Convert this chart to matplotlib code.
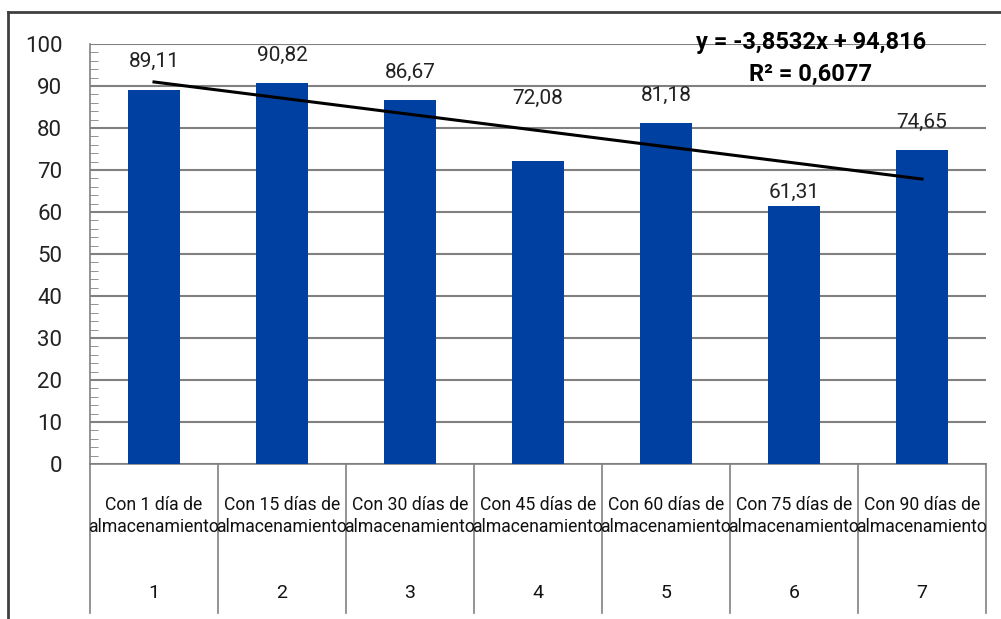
import numpy as np
import matplotlib
matplotlib.use('Agg')
import matplotlib.pyplot as plt
from matplotlib.lines import Line2D

plt.rcParams['font.family'] = ['Roboto', 'DejaVu Sans']

# Datos del gráfico
dias = ['Con 1 día de\nalmacenamiento', 'Con 15 días de\nalmacenamiento',
        'Con 30 días de\nalmacenamiento', 'Con 45 días de\nalmacenamiento',
        'Con 60 días de\nalmacenamiento', 'Con 75 días de\nalmacenamiento',
        'Con 90 días de\nalmacenamiento']
numeros = [1, 2, 3, 4, 5, 6, 7]
valores = [89.11, 90.82, 86.67, 72.08, 81.18, 61.31, 74.65]
ecuacion = 'y = -3,8532x + 94,816'
r2 = 'R² = 0,6077'

# separación (px) entre la barra y su etiqueta, como en el original
separacion = [28, 27, 28, 63, 28, 14, 28]

fig = plt.figure(figsize=(10.01, 6.19), dpi=100)
ax = fig.add_axes([90 / 1001, 155 / 619, 896 / 1001, 420 / 619])

x = np.array(numeros)
ax.bar(x, valores, width=0.4, color='#0040A0', zorder=3)

# Etiquetas de datos
for xi, v, sep in zip(x, valores, separacion):
    ax.annotate(f'{v:.2f}'.replace('.', ','), (xi, v), xytext=(0, sep * 0.72),
                textcoords='offset points', ha='center', va='center',
                fontsize=15, color='#222222')

# Línea de tendencia
m, b = np.polyfit(x, valores, 1)
ax.plot([x[0], x[-1]], [m * x[0] + b, m * x[-1] + b], color='black', lw=2.2, zorder=4)

fig.text(811 / 1001, 1 - 43 / 619, ecuacion, ha='center', va='center',
         fontsize=17, fontweight='bold')
fig.text(811 / 1001, 1 - 74 / 619, r2, ha='center', va='center',
         fontsize=17, fontweight='bold')

ax.set_xlim(0.5, 7.5)
ax.set_ylim(0, 100)
ax.set_yticks(range(0, 101, 10))
ax.set_yticks(range(0, 101, 2), minor=True)
ax.yaxis.grid(True, color='#808080', lw=1.5, zorder=0)
ax.tick_params(axis='y', which='major', length=0, pad=20, labelsize=16,
               labelcolor='#222222')
ax.tick_params(axis='y', which='minor', length=6, direction='in', color='#808080')
ax.set_xticks([])
for s in ['top', 'right']:
    ax.spines[s].set_visible(False)
for s in ['left', 'bottom']:
    ax.spines[s].set_color('#808080')
    ax.spines[s].set_linewidth(1.2)

# Eje de categorías en dos niveles
trans = ax.get_xaxis_transform()
for borde in np.arange(0.5, 8.0, 1.0):
    ax.plot([borde, borde], [0, -149 / 420], color='#808080', lw=1.2,
            transform=trans, clip_on=False)
for xi, d, n in zip(x, dias, numeros):
    linea1, linea2 = d.split('\n')
    ax.text(xi, -41 / 420, linea1, transform=trans, ha='center', va='center',
            fontsize=12.7, color='#111111')
    ax.text(xi, -63 / 420, linea2, transform=trans, ha='center', va='center',
            fontsize=12.7, color='#111111')
    ax.text(xi, -129 / 420, str(n), transform=trans, ha='center', va='center',
            fontsize=14, color='#111111')

# Marco exterior
fig.add_artist(Line2D([8 / 1001, 8 / 1001], [0, 1 - 12 / 619], color='#404040', lw=2))
fig.add_artist(Line2D([8 / 1001, 1], [1 - 12 / 619, 1 - 12 / 619], color='#404040', lw=2))

plt.savefig('out.png', dpi=100)
